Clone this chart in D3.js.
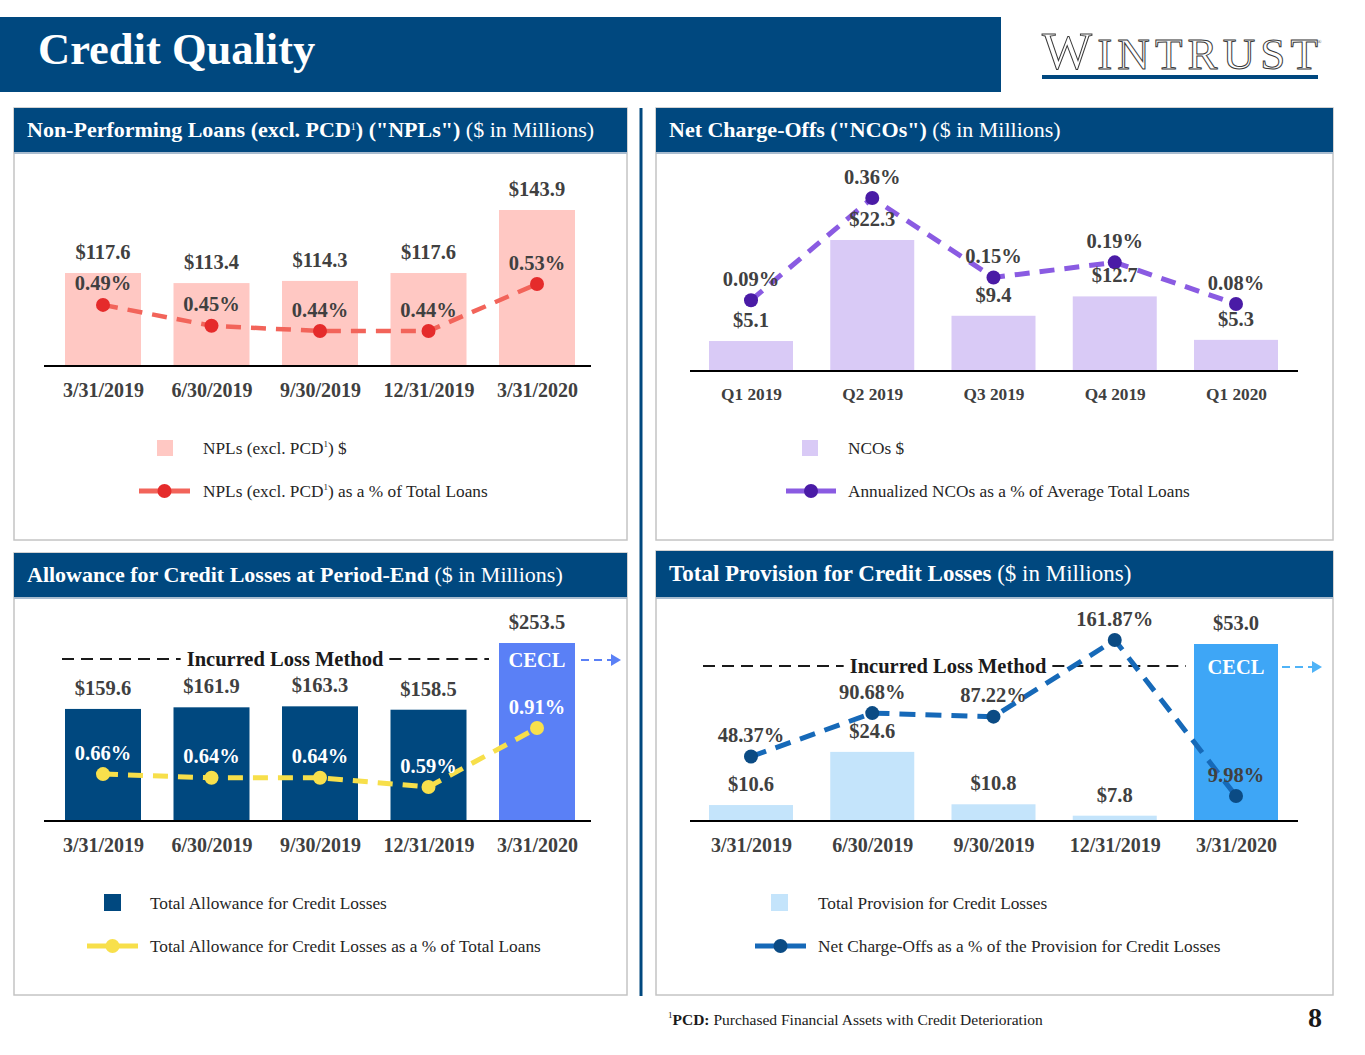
<!DOCTYPE html>
<html>
<head>
<meta charset="utf-8">
<script src="https://cdn.jsdelivr.net/npm/d3@7"></script>
<style>
  body { margin: 0; background: #fff; }
  svg { display: block; font-family: 'Liberation Serif', 'Times New Roman', serif; }
</style>
</head>
<body>
<div id="chart"></div>
<script>
const periodLabels = ['3/31/2019', '6/30/2019', '9/30/2019', '12/31/2019', '3/31/2020']
const quarterLabels = ['Q1 2019', 'Q2 2019', 'Q3 2019', 'Q4 2019', 'Q1 2020']

const nplValues = [117.6, 113.4, 114.3, 117.6, 143.9]
const nplPct = [0.49, 0.45, 0.44, 0.44, 0.53]

const ncoValues = [5.1, 22.3, 9.4, 12.7, 5.3]
const ncoPct = [0.09, 0.36, 0.15, 0.19, 0.08]

const allowanceValues = [159.6, 161.9, 163.3, 158.5, 253.5]
const allowancePct = [0.66, 0.64, 0.64, 0.59, 0.91]

const provisionValues = [10.6, 24.6, 10.8, 7.8, 53.0]
const provisionPct = [48.37, 90.68, 87.22, 161.87, 9.98]

const NAVY = '#00487f'
const LABEL = '#404040'
const LABEL_FONT = '20.5px'
const LEGEND_FONT = '17.3px'

const svg = d3.select('#chart')
    .append('svg')
    .attr('width', 1365)
    .attr('height', 1055)

// Slide header
svg.append('rect')
    .attr('x', 0).attr('y', 17)
    .attr('width', 1001).attr('height', 75)
    .attr('fill', NAVY)
svg.append('text')
    .attr('x', 38).attr('y', 64)
    .attr('fill', '#fff')
    .style('font-size', '44.5px')
    .style('font-weight', 'bold')
    .text('Credit Quality')

// Logo, drawn as outlined text
let logo = svg.append('text')
    .attr('x', 1042).attr('y', 69)
    .attr('fill', '#fff')
    .attr('stroke', '#3a3a3a')
    .attr('stroke-width', 1)
    .attr('textLength', 276)
    .attr('lengthAdjust', 'spacing')
logo.append('tspan').style('font-size', '53px').text('W')
logo.append('tspan').style('font-size', '45px').text('INTRUST')
svg.append('text')
    .attr('x', 1317).attr('y', 44)
    .attr('fill', '#555')
    .style('font-size', '6px')
    .text('®')
svg.append('rect')
    .attr('x', 1042).attr('y', 75)
    .attr('width', 276).attr('height', 4)
    .attr('fill', NAVY)

// vertical divider between the two columns
svg.append('rect')
    .attr('x', 639.5).attr('y', 108)
    .attr('width', 3).attr('height', 888)
    .attr('fill', NAVY)

function drawPanel(p) {
    let g = svg.append('g')
    g.append('rect')
        .attr('x', p.x).attr('y', p.y)
        .attr('width', p.w).attr('height', p.bottom - p.y)
        .attr('fill', '#fff')
        .attr('stroke', '#c4c4c4')
        .attr('stroke-width', 1.5)
    g.append('rect')
        .attr('x', p.x).attr('y', p.y)
        .attr('width', p.w).attr('height', p.headH)
        .attr('fill', NAVY)
    g.append('line')
        .attr('x1', p.x).attr('x2', p.x + p.w)
        .attr('y1', p.y + p.headH + 1).attr('y2', p.y + p.headH + 1)
        .attr('stroke', '#a9bccf')
        .attr('stroke-width', 2)

    let t = g.append('text')
        .attr('x', p.x + 13)
        .attr('y', p.y + p.headH / 2 + 7)
        .attr('fill', '#fff')
        .style('font-size', p.font || '22px')
    p.title.forEach(part => {
        let s = t.append('tspan')
            .style('font-weight', part.bold ? 'bold' : 'normal')
            .text(part.text)
        if (part.sup) s.attr('dy', -7).style('font-size', '10px')
        if (part.after) s.attr('dy', 7)
    })
    return g
}

function drawCombo(o) {
    let g = svg.append('g')
    let x = d3.scalePoint().domain(o.labels).range(o.xRange)
    let yBar = d3.scaleLinear().domain(o.barDomain).range(o.barRange)
    let yPct = d3.scaleLinear().domain(o.pctDomain).range(o.pctRange)
    let base = yBar(o.barDomain[0])

    let rows = o.labels.map((l, i) => ({ label: l, value: o.values[i], pct: o.pct[i], i: i }))

    g.selectAll('rect.bar')
        .data(rows)
        .join('rect')
        .attr('class', 'bar')
        .attr('x', d => x(d.label) - o.barW / 2)
        .attr('y', d => yBar(d.value))
        .attr('width', o.barW)
        .attr('height', d => base - yBar(d.value))
        .attr('fill', d => o.barColor(d.i))

    g.append('line')
        .attr('x1', o.axisX[0]).attr('x2', o.axisX[1])
        .attr('y1', base).attr('y2', base)
        .attr('stroke', '#000')
        .attr('stroke-width', 2)

    let axis = g.append('g')
        .attr('transform', `translate(0,${base})`)
        .call(d3.axisBottom(x).tickSize(0).tickPadding(o.tickPad))
    axis.select('.domain').remove()
    axis.selectAll('text')
        .attr('fill', LABEL)
        .style('font-family', "'Liberation Serif', serif")
        .style('font-size', o.tickFont)
        .style('font-weight', 'bold')

    if (o.extra) o.extra(g, x, yBar, base)

    let line = d3.line()
        .x(d => x(d.label))
        .y(d => yPct(d.pct))
    g.append('path')
        .datum(rows)
        .attr('d', line)
        .attr('fill', 'none')
        .attr('stroke', o.lineColor)
        .attr('stroke-width', o.lineW)
        .attr('stroke-dasharray', o.dash)

    g.selectAll('circle.pt')
        .data(rows)
        .join('circle')
        .attr('class', 'pt')
        .attr('cx', d => x(d.label))
        .attr('cy', d => yPct(d.pct))
        .attr('r', 7)
        .attr('fill', o.dotColor)

    g.selectAll('text.val')
        .data(rows)
        .join('text')
        .attr('class', 'val')
        .attr('x', d => x(d.label))
        .attr('y', d => yBar(d.value) - 14)
        .attr('text-anchor', 'middle')
        .attr('fill', LABEL)
        .style('font-size', LABEL_FONT)
        .style('font-weight', 'bold')
        .text(d => `$${d.value.toFixed(1)}`)

    g.selectAll('text.pct')
        .data(rows)
        .join('text')
        .attr('class', 'pct')
        .attr('x', d => x(d.label))
        .attr('y', d => yPct(d.pct) - 14.5)
        .attr('text-anchor', 'middle')
        .attr('fill', o.pctColor)
        .style('font-size', LABEL_FONT)
        .style('font-weight', 'bold')
        .text(d => `${d.pct.toFixed(2)}%`)

    return g
}

// "Incurred Loss Method" bracket plus the CECL tag and arrow
function methodNote(g, x, yBar, n) {
    let t = g.append('text')
        .attr('x', n.cx).attr('y', n.y + 7)
        .attr('text-anchor', 'middle')
        .attr('fill', '#1a1a1a')
        .style('font-size', LABEL_FONT)
        .style('font-weight', 'bold')
        .text('Incurred Loss Method')
    let half = t.node().getComputedTextLength() / 2
    ;[[n.x0, n.cx - half - 6], [n.cx + half + 6, n.x1]].forEach(s => {
        g.append('line')
            .attr('x1', s[0]).attr('x2', s[1])
            .attr('y1', n.y).attr('y2', n.y)
            .attr('stroke', '#1a1a1a')
            .attr('stroke-width', 2)
            .attr('stroke-dasharray', '12,7')
    })
    let lastX = x(x.domain()[x.domain().length - 1])
    g.append('text')
        .attr('x', lastX).attr('y', n.y + 7.5)
        .attr('text-anchor', 'middle')
        .attr('fill', '#fff')
        .style('font-size', LABEL_FONT)
        .style('font-weight', 'bold')
        .text('CECL')
    let ax = lastX + n.arrowGap
    g.append('line')
        .attr('x1', ax).attr('x2', ax + 31)
        .attr('y1', n.y + 1).attr('y2', n.y + 1)
        .attr('stroke', n.arrow)
        .attr('stroke-width', 2)
        .attr('stroke-dasharray', '8,5')
    g.append('path')
        .attr('d', `M${ax + 30},${n.y - 5}L${ax + 40},${n.y + 1}L${ax + 30},${n.y + 7}Z`)
        .attr('fill', n.arrow)
}

function legendSwatch(x, y, size, color) {
    svg.append('rect')
        .attr('x', x).attr('y', y)
        .attr('width', size).attr('height', size)
        .attr('fill', color)
}

function legendText(x, y, parts) {
    let t = svg.append('text')
        .attr('x', x).attr('y', y + 5.5)
        .attr('fill', '#262626')
        .style('font-size', LEGEND_FONT)
    parts.forEach(p => {
        let s = t.append('tspan').text(p.text)
        if (p.sup) s.attr('dy', -7).style('font-size', '9px')
        if (p.after) s.attr('dy', 7)
    })
}

function legendLine(x0, x1, y, lineColor, dotColor) {
    svg.append('line')
        .attr('x1', x0).attr('x2', x1)
        .attr('y1', y).attr('y2', y)
        .attr('stroke', lineColor)
        .attr('stroke-width', 5)
    svg.append('circle')
        .attr('cx', (x0 + x1) / 2).attr('cy', y)
        .attr('r', 7)
        .attr('fill', dotColor)
}

// ---- Panel 1: NPLs
drawPanel({
    x: 14, y: 108, w: 613, headH: 44, bottom: 540,
    title: [
        { text: 'Non-Performing Loans (excl. PCD', bold: true },
        { text: '1', bold: false, sup: true },
        { text: ') ("NPLs")', bold: true, after: true },
        { text: ' ($ in Millions)', bold: false }
    ]
})
drawCombo({
    labels: periodLabels, values: nplValues, pct: nplPct,
    xRange: [103, 537], axisX: [44, 591], barW: 76,
    barDomain: [78.8, 143.9], barRange: [366, 210],
    pctDomain: [0.44, 0.53], pctRange: [331, 284],
    barColor: () => '#ffc8c3',
    lineColor: '#f2645a', dotColor: '#e52b2b', lineW: 4.5, dash: '15,10',
    pctColor: LABEL, tickPad: 17, tickFont: '20px'
})
legendSwatch(157, 440, 16, '#ffc8c3')
legendText(203, 448, [{ text: 'NPLs (excl. PCD' }, { text: '1', sup: true }, { text: ') $', after: true }])
legendLine(139, 190, 491, '#f2645a', '#e52b2b')
legendText(203, 491, [{ text: 'NPLs (excl. PCD' }, { text: '1', sup: true }, { text: ') as a % of Total Loans', after: true }])

// ---- Panel 2: NCOs
drawPanel({
    x: 656, y: 108, w: 677, headH: 44, bottom: 540,
    title: [
        { text: 'Net Charge-Offs ("NCOs")', bold: true },
        { text: ' ($ in Millions)', bold: false }
    ]
})
drawCombo({
    labels: quarterLabels, values: ncoValues, pct: ncoPct,
    xRange: [751, 1236], axisX: [690, 1298], barW: 84,
    barDomain: [0, 22.3], barRange: [371, 240],
    pctDomain: [0.08, 0.36], pctRange: [304, 198],
    barColor: () => '#d9caf6',
    lineColor: '#8a5be2', dotColor: '#4a1ba6', lineW: 5, dash: '15,10',
    pctColor: LABEL, tickPad: 17, tickFont: '17.3px'
})
legendSwatch(802, 440, 16, '#d9caf6')
legendText(848, 448, [{ text: 'NCOs $' }])
legendLine(786, 836, 491, '#8a5be2', '#4a1ba6')
legendText(848, 491, [{ text: 'Annualized NCOs as a % of Average Total Loans' }])

// ---- Panel 3: Allowance
drawPanel({
    x: 14, y: 553, w: 613, headH: 44, bottom: 995,
    title: [
        { text: 'Allowance for Credit Losses at Period-End', bold: true },
        { text: ' ($ in Millions)', bold: false }
    ]
})
drawCombo({
    labels: periodLabels, values: allowanceValues, pct: allowancePct,
    xRange: [103, 537], axisX: [44, 591], barW: 76,
    barDomain: [0, 253.5], barRange: [821, 643],
    pctDomain: [0.59, 0.91], pctRange: [787, 728],
    barColor: i => i === 4 ? '#5a80f6' : NAVY,
    lineColor: '#f7df4a', dotColor: '#f8e04c', lineW: 5, dash: '15,10',
    pctColor: '#fff', tickPad: 17, tickFont: '20px',
    extra: (g, x, yBar) => methodNote(g, x, yBar, { x0: 62, x1: 489, cx: 285, y: 659, arrow: '#5a80f6', arrowGap: 44 })
})
legendSwatch(104, 894, 17, NAVY)
legendText(150, 903, [{ text: 'Total Allowance for Credit Losses' }])
legendLine(87, 138, 946, '#f7df4a', '#f8e04c')
legendText(150, 946, [{ text: 'Total Allowance for Credit Losses as a % of Total Loans' }])

// ---- Panel 4: Provision
drawPanel({
    x: 656, y: 551, w: 677, headH: 46, bottom: 995, font: '23px',
    title: [
        { text: 'Total Provision for Credit Losses', bold: true },
        { text: ' ($ in Millions)', bold: false }
    ]
})
drawCombo({
    labels: periodLabels, values: provisionValues, pct: provisionPct,
    xRange: [751, 1236], axisX: [690, 1298], barW: 84,
    barDomain: [6.4, 53.0], barRange: [821, 644],
    pctDomain: [9.98, 161.87], pctRange: [796, 640],
    barColor: i => i === 4 ? '#3ea6f6' : '#c4e4fb',
    lineColor: '#1669b8', dotColor: '#0b4b84', lineW: 5, dash: '16,10',
    pctColor: LABEL, tickPad: 17, tickFont: '20px',
    extra: (g, x, yBar) => methodNote(g, x, yBar, { x0: 703, x1: 1186, cx: 948, y: 666, arrow: '#4fb3f7', arrowGap: 46 })
})
legendSwatch(771, 894, 17, '#c4e4fb')
legendText(818, 903, [{ text: 'Total Provision for Credit Losses' }])
legendLine(755, 806, 946, '#1669b8', '#0b4b84')
legendText(818, 946, [{ text: 'Net Charge-Offs as a % of the Provision for Credit Losses' }])

// footnote + page number
let foot = svg.append('text')
    .attr('x', 668).attr('y', 1025)
    .attr('fill', '#1a1a1a')
    .style('font-size', '15.5px')
foot.append('tspan').attr('dy', -7).style('font-size', '9px').text('1')
foot.append('tspan').attr('dy', 7).style('font-weight', 'bold').text('PCD:')
foot.append('tspan').text(' Purchased Financial Assets with Credit Deterioration')

svg.append('text')
    .attr('x', 1315).attr('y', 1027)
    .attr('text-anchor', 'middle')
    .attr('fill', '#1a1a1a')
    .style('font-size', '28px')
    .style('font-weight', 'bold')
    .text('8')
</script>
</body>
</html>
